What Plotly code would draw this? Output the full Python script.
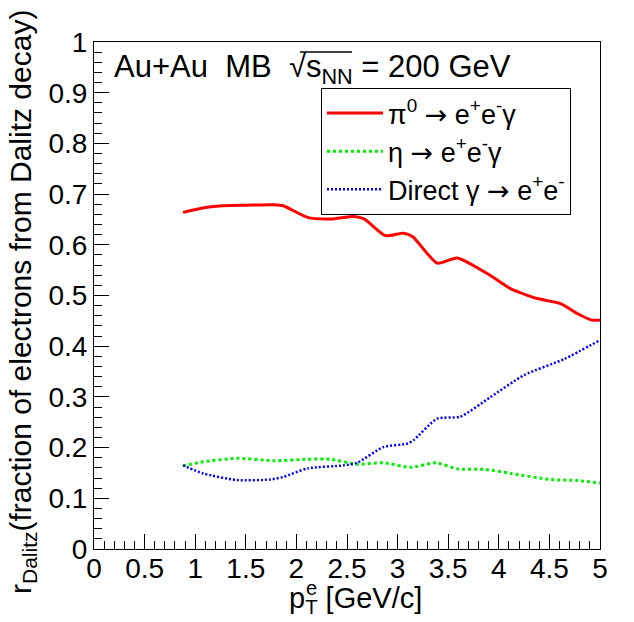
import plotly.graph_objects as go

# pT (GeV/c) and fractions
pi0_x = [0.88, 1.12, 1.28, 1.5, 1.78, 1.87, 2.11, 2.34, 2.57, 2.67, 2.88, 3.06, 3.15, 3.39, 3.59, 3.92, 4.12, 4.38, 4.61, 4.78, 4.91, 5.0]
pi0_y = [0.664, 0.674, 0.677, 0.678, 0.679, 0.677, 0.654, 0.651, 0.656, 0.651, 0.618, 0.623, 0.616, 0.564, 0.574, 0.539, 0.513, 0.494, 0.484, 0.464, 0.452, 0.451]

eta_x = [0.88, 1.08, 1.41, 1.78, 2.11, 2.34, 2.6, 2.86, 3.13, 3.38, 3.59, 3.86, 4.12, 4.51, 4.78, 5.0]
eta_y = [0.164, 0.172, 0.179, 0.174, 0.177, 0.177, 0.167, 0.170, 0.161, 0.170, 0.158, 0.157, 0.149, 0.137, 0.135, 0.130]

dir_x = [0.88, 1.08, 1.41, 1.74, 1.87, 2.11, 2.47, 2.6, 2.86, 3.1, 3.16, 3.39, 3.62, 3.92, 4.25, 4.65, 5.0]
dir_y = [0.165, 0.149, 0.136, 0.137, 0.142, 0.159, 0.165, 0.170, 0.201, 0.208, 0.215, 0.257, 0.261, 0.300, 0.343, 0.375, 0.412]

ARROW = '<span style="font-family:DejaVu Sans">→</span>'
names = ["π<sup>0</sup> " + ARROW + " e<sup>+</sup>e<sup>-</sup>γ",
         "η " + ARROW + " e<sup>+</sup>e<sup>-</sup>γ",
         "Direct γ " + ARROW + " e<sup>+</sup>e<sup>-</sup>"]

FONT = "Liberation Sans, Arial, Helvetica, sans-serif"

# plot-area geometry in pixels (used only to place the free text)
L, R, T, B = 94, 600, 42, 549

def px(x):
    return (x - L) / (R - L)

def py(y):
    return (B - y) / (B - T)

fig = go.Figure()
fig.add_trace(go.Scatter(x=pi0_x, y=pi0_y, mode="lines", name=names[0],
                         line=dict(color="#ff0000", width=3, shape="spline", smoothing=0.6)))
fig.add_trace(go.Scatter(x=eta_x, y=eta_y, mode="lines", name=names[1],
                         line=dict(color="#00f000", width=3, dash="3px,3px", shape="spline", smoothing=0.6)))
fig.add_trace(go.Scatter(x=dir_x, y=dir_y, mode="lines", name=names[2],
                         line=dict(color="#0000ff", width=2.5, dash="2px,2px", shape="spline", smoothing=0.6)))

axis_common = dict(showline=True, linecolor="black", linewidth=1, mirror=True,
                   ticks="inside", ticklen=15, tickwidth=1, tickcolor="black",
                   showgrid=False, zeroline=False,
                   tickfont=dict(family=FONT, size=28, color="black"))

fig.update_layout(
    width=634, height=622,
    margin=dict(l=L, r=634 - R, t=T, b=622 - B),
    paper_bgcolor="white", plot_bgcolor="white",
    font=dict(family=FONT, color="black"),
    xaxis=dict(range=[0, 5], tick0=0, dtick=0.5, ticklabelstandoff=-6,
               minor=dict(ticks="inside", ticklen=8, dtick=0.1, tickcolor="black", showgrid=False),
               **axis_common),
    yaxis=dict(range=[0, 1], tick0=0, dtick=0.1, tickformat="~g",
               minor=dict(ticks="inside", ticklen=8, dtick=0.02, tickcolor="black", showgrid=False),
               **axis_common),
    showlegend=True,
    legend=dict(x=px(321), y=py(88), xanchor="left", yanchor="top",
                bordercolor="black", borderwidth=1, bgcolor="white",
                font=dict(family=FONT, size=27, color="black"),
                itemwidth=56, tracegroupgap=0),
)

annotations = [
    dict(text="Au+Au  MB  √s<sub>NN</sub> = 200 GeV", x=px(112), y=py(69), xref="paper", yref="paper",
         xanchor="left", yanchor="middle", showarrow=False, font=dict(family=FONT, size=31)),
    dict(text="r<sub>Dalitz</sub>(fraction of electrons from Dalitz decay)", x=px(22), y=py(302),
         xref="paper", yref="paper", xanchor="center", yanchor="middle",
         showarrow=False, textangle=-90, font=dict(family=FONT, size=30)),
    dict(text="p<sub>T</sub> [GeV/c]", x=px(355), y=py(600), xref="paper", yref="paper",
         xanchor="center", yanchor="middle", showarrow=False, font=dict(family=FONT, size=29)),
    dict(text="e", x=px(311), y=py(588), xref="paper", yref="paper",
         xanchor="center", yanchor="middle", showarrow=False, font=dict(family=FONT, size=20)),
]
fig.update_layout(annotations=annotations)

# overline of the square-root sign in the header text
fig.add_shape(type="line", xref="paper", yref="paper",
              x0=px(300), x1=px(352), y0=py(52), y1=py(52),
              line=dict(color="black", width=1.5))

fig.write_html("out.html", config={"displayModeBar": False},
               post_script="document.body.style.margin='0';document.body.style.overflow='hidden';")
